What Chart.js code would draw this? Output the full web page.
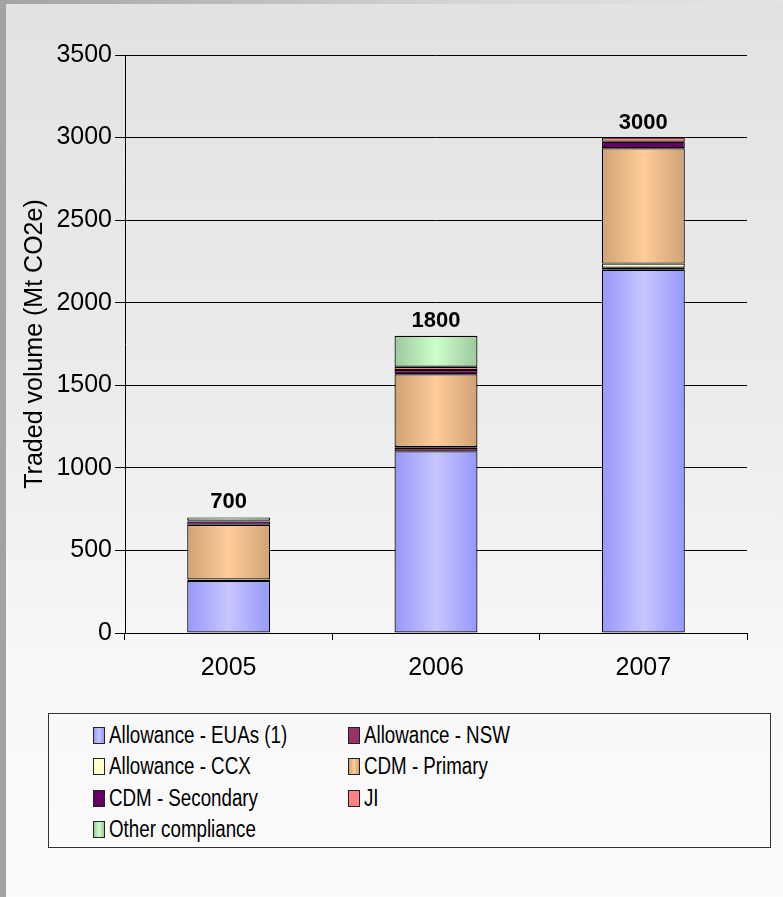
<!DOCTYPE html>
<html>
<head>
<meta charset="utf-8">
<title>Traded volume</title>
<script src="https://cdn.jsdelivr.net/npm/chart.js@4"></script>
<style>
  body { margin: 0; }
  .page {
    position: relative; width: 783px; height: 897px; overflow: hidden;
    background: linear-gradient(180deg, #e2e2e2 0%, #ececec 45%, #f8f8f8 75%, #fbfbfb 100%);
    font-family: 'Liberation Sans', Arial, sans-serif;
  }
  .frame-left { position: absolute; left: 0; top: 0; width: 6px; height: 897px; background: #a3a3a3; }
  .frame-top { position: absolute; left: 0; top: 0; width: 783px; height: 4px;
    background: linear-gradient(90deg, #a3a3a3 0%, #d6d6d6 60%, #e4e4e4 100%); }
  .chart-box { position: absolute; left: 0; top: 0; width: 783px; height: 700px; }
  #legend {
    position: absolute; left: 48px; top: 713px; width: 723px; height: 135px;
    border: 1px solid #333; box-sizing: border-box;
    padding: 6px 0 0 44px;
    display: grid; grid-template-columns: 255px 255px; grid-auto-rows: 31.3px;
  }
  #legend .item { display: flex; align-items: center; color: #000; white-space: nowrap; }
  #legend .box { width: 10px; height: 15px; border: 1px solid #222; margin-right: 4px; flex: none; }
  #legend .text { display: inline-block; font-size: 23px; transform: scaleX(0.815); transform-origin: left center; }
</style>
</head>
<body>
<div class="page">
  <div class="frame-left"></div>
  <div class="frame-top"></div>
  <div class="chart-box"><canvas id="volumeChart"></canvas></div>
  <div id="legend"></div>
</div>
<script>
// Traded volume by segment, Mt CO2e
const years = ["2005", "2006", "2007"];
const euas = [315, 1100, 2200];
const nsw = [8, 22, 12];
const ccx = [2, 5, 25];
const cdmPrimary = [330, 440, 698];
const cdmSecondary = [20, 25, 40];
const ji = [5, 20, 25];
const otherCompliance = [20, 188, 0];
const totalLabels = [700, 1800, 3000];
const yTicks = [0, 500, 1000, 1500, 2000, 2500, 3000, 3500];

const BAR_SHARE = 0.4;

// horizontal shading across each bar: darker edges, lighter middle
function shaded(edge, mid) {
  return (ctx) => {
    const chart = ctx.chart;
    const x = chart.scales && chart.scales.x;
    if (!x || ctx.dataIndex === undefined || !x.width) return edge;
    const cx = x.getPixelForValue(ctx.dataIndex);
    const half = (x.width / years.length) * BAR_SHARE / 2;
    const g = chart.ctx.createLinearGradient(cx - half, 0, cx + half, 0);
    g.addColorStop(0, edge);
    g.addColorStop(0.5, mid);
    g.addColorStop(1, edge);
    return g;
  };
}

const series = [
  { label: "Allowance - EUAs (1)", data: euas, edge: "#9797fb", mid: "#c6c6ff" },
  { label: "Allowance - NSW", data: nsw, edge: "#993366", mid: "#993366" },
  { label: "Allowance - CCX", data: ccx, edge: "#ffffcc", mid: "#ffffcc" },
  { label: "CDM - Primary", data: cdmPrimary, edge: "#cfa275", mid: "#ffcc99" },
  { label: "CDM - Secondary", data: cdmSecondary, edge: "#660066", mid: "#660066" },
  { label: "JI", data: ji, edge: "#ff8080", mid: "#ff8080" },
  { label: "Other compliance", data: otherCompliance, edge: "#9dc99d", mid: "#ccffcc" },
];

// bold totals above each stack
const totalsPlugin = {
  id: "totals",
  afterDatasetsDraw(chart) {
    const { ctx, scales } = chart;
    ctx.save();
    ctx.font = "bold 22px 'Liberation Sans', Arial, sans-serif";
    ctx.fillStyle = "#000";
    ctx.textAlign = "center";
    ctx.textBaseline = "bottom";
    years.forEach((year, i) => {
      const sum = series.reduce((acc, s) => acc + s.data[i], 0);
      const x = scales.x.getPixelForValue(i);
      const y = scales.y.getPixelForValue(sum);
      ctx.fillText(String(totalLabels[i]), x, y - 4);
    });
    ctx.restore();
  }
};

Chart.defaults.font.family = "'Liberation Sans', Arial, sans-serif";
Chart.defaults.color = "#000";

const chart = new Chart(document.getElementById("volumeChart"), {
  type: "bar",
  data: {
    labels: years,
    datasets: series.map(s => ({
      label: s.label,
      data: s.data,
      backgroundColor: shaded(s.edge, s.mid),
      borderColor: "#000",
      borderWidth: 1.2,
      borderSkipped: false,
      barPercentage: 0.5,
      categoryPercentage: 0.8,
    })),
  },
  options: {
    responsive: true,
    maintainAspectRatio: false,
    animation: false,
    layout: { padding: { top: 55, right: 36, left: 0, bottom: 0 } },
    scales: {
      x: {
        stacked: true,
        grid: { drawOnChartArea: false, drawTicks: true, tickLength: 7, color: "#000", offset: true },
        border: { color: "#000" },
        ticks: { font: { size: 25 }, padding: 13 },
        afterFit: (scale) => { scale.height = 67; },
      },
      y: {
        stacked: true,
        min: 0,
        max: 3500,
        afterBuildTicks: (scale) => { scale.ticks = yTicks.map(v => ({ value: v })); },
        grid: { color: "#000", tickLength: 10, drawTicks: true },
        border: { color: "#000" },
        ticks: { font: { size: 25 }, padding: 3, callback: (v) => String(v) },
        title: {
          display: true,
          text: "Traded volume (Mt CO2e)",
          font: { size: 25 },
          padding: { top: 20, bottom: 0 },
        },
        afterFit: (scale) => { scale.width = 125; },
      },
    },
    plugins: {
      legend: { display: false },
      tooltip: { enabled: false },
    },
  },
  plugins: [totalsPlugin],
});

// legend built from the same datasets, laid out in two columns
const legendEl = document.getElementById("legend");
series.forEach(s => {
  const item = document.createElement("div");
  item.className = "item";
  const box = document.createElement("span");
  box.className = "box";
  box.style.background = `linear-gradient(90deg, ${s.edge}, ${s.mid} 50%, ${s.edge})`;
  const text = document.createElement("span");
  text.className = "text";
  text.textContent = s.label;
  item.appendChild(box);
  item.appendChild(text);
  legendEl.appendChild(item);
});
</script>
</body>
</html>
